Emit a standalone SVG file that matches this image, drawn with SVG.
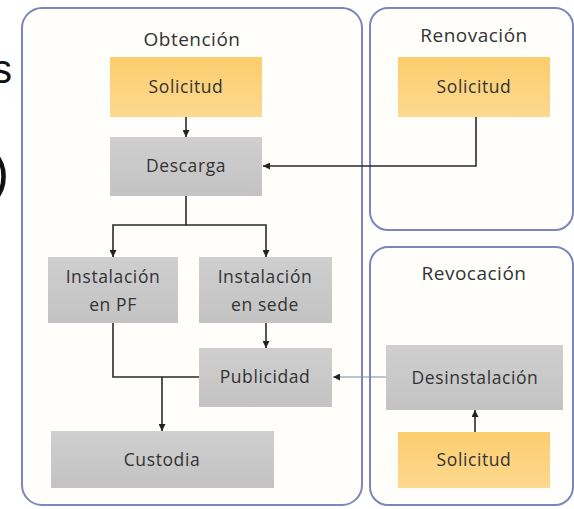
<svg xmlns="http://www.w3.org/2000/svg" width="574" height="509" viewBox="0 0 574 509">
<defs>
<linearGradient id="gOr" x1="0" y1="0" x2="0" y2="1"><stop offset="0" stop-color="#fbcd6e"/><stop offset="1" stop-color="#fdd98f"/></linearGradient>
<linearGradient id="gGr" x1="0" y1="0" x2="0" y2="1"><stop offset="0" stop-color="#cfcfcf"/><stop offset="1" stop-color="#c3c3c3"/></linearGradient>
<marker id="arr" viewBox="0 0 10 10" refX="10" refY="5" markerWidth="7" markerHeight="7" markerUnits="userSpaceOnUse" orient="auto"><path d="M0,0 L10,5 L0,10 z" fill="#222"/></marker>
</defs>
<style>
.cont{fill:#fffefb;stroke:#7c86bd;stroke-width:2}
.or{fill:url(#gOr)}
.gr{fill:url(#gGr)}
.t{font-family:"Open Sans","Liberation Sans",sans-serif;font-size:17.5px;letter-spacing:0.6px;fill:#333;text-anchor:middle}
.h{font-family:"Open Sans","Liberation Sans",sans-serif;font-size:19px;letter-spacing:0.5px;fill:#333;text-anchor:middle}
.big{font-family:"Liberation Sans",sans-serif;fill:#111;text-anchor:end}
.c{fill:none;stroke:#2a2a2a;stroke-width:1.6}
.c2{fill:none;stroke:#7d8aa8;stroke-width:1.1}
</style>
<text class="big" x="12" y="83" font-size="40">s</text>
<text class="big" x="9" y="190" font-size="52">)</text>
<g id="obtencion"><rect class="cont" x="22" y="8" width="340" height="497" rx="20"/><text class="h" x="192" y="46">Obtención</text></g>
<g id="renovacion"><rect class="cont" x="370" y="8" width="203" height="222" rx="18"/><text class="h" x="474" y="42">Renovación</text></g>
<g id="revocacion"><rect class="cont" x="370" y="247" width="203" height="258" rx="18"/><text class="h" x="474" y="280">Revocación</text></g>
<g id="solicitud1"><rect class="or" x="110" y="57" width="152" height="60"/><text class="t" x="186" y="93">Solicitud</text></g>
<g id="descarga"><rect class="gr" x="110" y="137" width="152" height="59"/><text class="t" x="186" y="172">Descarga</text></g>
<g id="solicitud2"><rect class="or" x="398" y="57" width="152" height="60"/><text class="t" x="474" y="93">Solicitud</text></g>
<g id="instPF"><rect class="gr" x="48" y="257" width="130" height="66"/><text class="t" x="113" y="283">Instalación</text><text class="t" x="113" y="311">en PF</text></g>
<g id="instSede"><rect class="gr" x="199" y="257" width="133" height="66"/><text class="t" x="265" y="283">Instalación</text><text class="t" x="265" y="311">en sede</text></g>
<g id="publicidad"><rect class="gr" x="199" y="348" width="133" height="59"/><text class="t" x="265" y="383">Publicidad</text></g>
<g id="custodia"><rect class="gr" x="51" y="431" width="223" height="57"/><text class="t" x="162" y="466">Custodia</text></g>
<g id="desinstalacion"><rect class="gr" x="386" y="345" width="177" height="65"/><text class="t" x="475" y="384">Desinstalación</text></g>
<g id="solicitud3"><rect class="or" x="398" y="432" width="152" height="56"/><text class="t" x="474" y="466">Solicitud</text></g>
<g id="connectors">
<path class="c" d="M186,117 V137" marker-end="url(#arr)"/>
<path class="c" d="M476,117 V166 H263" marker-end="url(#arr)"/>
<path class="c" d="M186,196 V225 H113 V257" marker-end="url(#arr)"/>
<path class="c" d="M186,225 H266 V257" marker-end="url(#arr)"/>
<path class="c" d="M266,323 V348" marker-end="url(#arr)"/>
<path class="c" d="M113,323 V377 H199"/>
<path class="c" d="M162,377 V431" marker-end="url(#arr)"/>
<path class="c2" d="M386,377 H333" marker-end="url(#arr)"/>
<path class="c" d="M475,432 V410" marker-end="url(#arr)"/>
</g>
</svg>
